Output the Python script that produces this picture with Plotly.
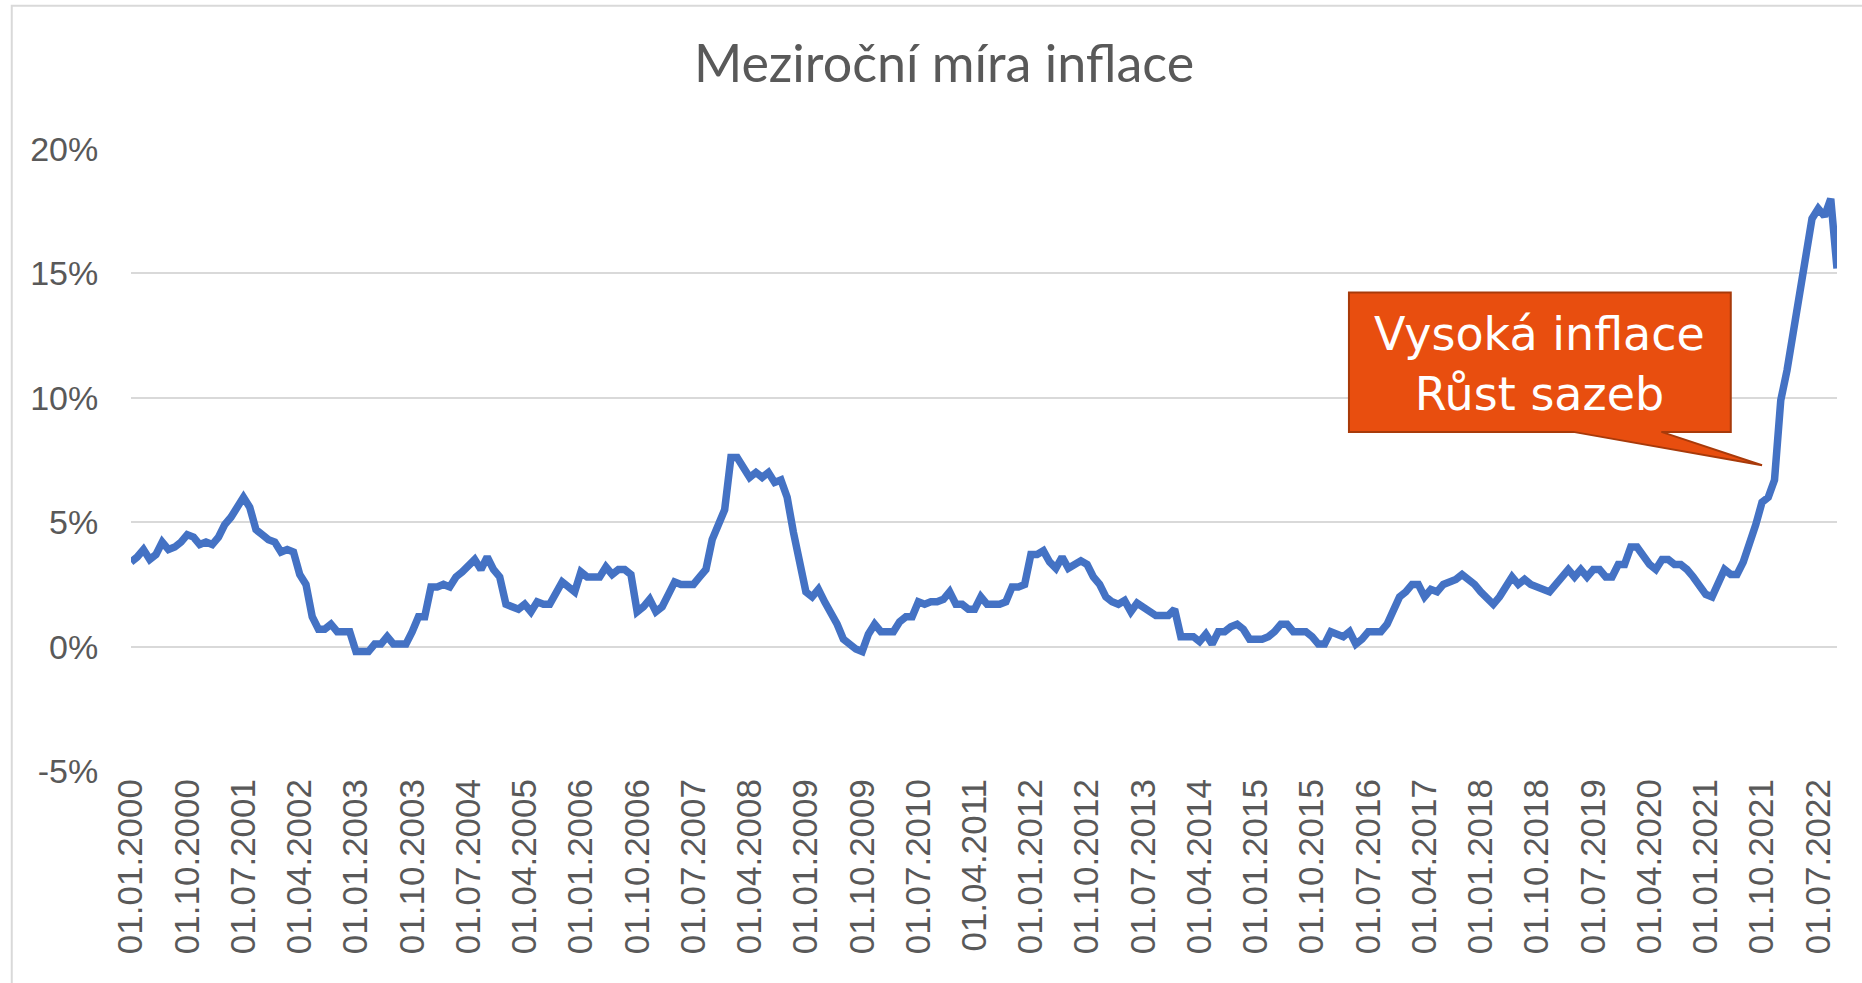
import plotly.graph_objects as go

# Year-on-year CPI inflation (%), monthly, Jan 2000 - Oct 2022
y2000 = [3.4, 3.6, 3.9, 3.5, 3.7, 4.2, 3.9, 4.0, 4.2, 4.5, 4.4, 4.1]
y2001 = [4.2, 4.1, 4.4, 4.9, 5.2, 5.6, 6.0, 5.6, 4.7, 4.5, 4.3, 4.2]
y2002 = [3.8, 3.9, 3.8, 2.9, 2.5, 1.2, 0.7, 0.7, 0.9, 0.6, 0.6, 0.6]
y2003 = [-0.2, -0.2, -0.2, 0.1, 0.1, 0.4, 0.1, 0.1, 0.1, 0.6, 1.2, 1.2]
y2004 = [2.4, 2.4, 2.5, 2.4, 2.8, 3.0, 3.3, 3.5, 3.1, 3.6, 3.1, 2.8]
y2005 = [1.7, 1.6, 1.5, 1.7, 1.4, 1.8, 1.7, 1.7, 2.2, 2.6, 2.4, 2.2]
y2006 = [3.0, 2.8, 2.8, 2.8, 3.2, 2.9, 3.1, 3.1, 2.9, 1.4, 1.6, 1.9]
y2007 = [1.4, 1.6, 2.1, 2.6, 2.5, 2.5, 2.5, 2.8, 3.1, 4.3, 5.0, 5.5]
y2008 = [7.6, 7.6, 7.2, 6.8, 7.0, 6.8, 7.0, 6.6, 6.7, 6.0, 4.6, 3.4]
y2009 = [2.2, 2.0, 2.3, 1.8, 1.4, 0.9, 0.3, 0.1, -0.1, -0.2, 0.5, 0.9]
y2010 = [0.6, 0.6, 0.6, 1.0, 1.2, 1.2, 1.8, 1.7, 1.8, 1.8, 1.9, 2.2]
y2011 = [1.7, 1.7, 1.5, 1.5, 2.0, 1.7, 1.7, 1.7, 1.8, 2.4, 2.4, 2.5]
y2012 = [3.7, 3.7, 3.85, 3.4, 3.15, 3.6, 3.15, 3.3, 3.45, 3.3, 2.8, 2.5]
y2013 = [2.0, 1.8, 1.7, 1.85, 1.4, 1.75, 1.6, 1.4, 1.25, 1.25, 1.25, 1.5]
y2014 = [0.4, 0.4, 0.4, 0.2, 0.5, 0.1, 0.6, 0.6, 0.8, 0.9, 0.7, 0.3]
y2015 = [0.3, 0.3, 0.4, 0.6, 0.9, 0.9, 0.6, 0.6, 0.6, 0.4, 0.1, 0.1]
y2016 = [0.6, 0.5, 0.4, 0.6, 0.1, 0.3, 0.6, 0.6, 0.6, 0.9, 1.5, 2.0]
y2017 = [2.2, 2.5, 2.5, 2.0, 2.3, 2.2, 2.5, 2.6, 2.7, 2.9, 2.7, 2.5]
y2018 = [2.2, 1.9, 1.7, 2.0, 2.4, 2.8, 2.5, 2.7, 2.5, 2.4, 2.3, 2.2]
y2019 = [2.5, 2.8, 3.1, 2.8, 3.1, 2.8, 3.1, 3.1, 2.8, 2.8, 3.3, 3.3]
y2020 = [4.0, 4.0, 3.6, 3.3, 3.1, 3.5, 3.5, 3.3, 3.3, 3.1, 2.8, 2.4]
y2021 = [2.1, 2.0, 2.5, 3.1, 2.9, 2.9, 3.4, 4.1, 4.9, 5.8, 6.0, 6.7]
y2022 = [9.9, 11.1, 12.7, 14.2, 16.0, 17.2, 17.6, 17.3, 18.0, 15.2]

yearly = [y2000, y2001, y2002, y2003, y2004, y2005, y2006, y2007, y2008, y2009,
          y2010, y2011, y2012, y2013, y2014, y2015, y2016, y2017, y2018, y2019,
          y2020, y2021, y2022]
first_year = 2000

values = [v for yr in yearly for v in yr]
dates = [f"01.{(i % 12) + 1:02d}.{first_year + i // 12}" for i in range(len(values))]
idx = list(range(len(values)))

# category labels shown every 9 months
label_step = 9
tick_idx = idx[::label_step]
tick_txt = dates[::label_step]

y_ticks = [-5, 0, 5, 10, 15, 20]
y_labels = [f"{t}%" for t in y_ticks]

title_text = "Meziroční míra inflace"
callout_lines = ["Vysoká inflace", "Růst sazeb"]

GREY_TXT = "#595959"
GRID = "#D9D9D9"
AX_FONT = "Liberation Sans"

fig = go.Figure()
fig.add_trace(go.Scatter(
    x=idx, y=values, mode="lines",
    line=dict(color="#4472C4", width=7.5),
    cliponaxis=False, hoverinfo="x+y",
))

# callout box (in data coordinates)
bx0, bx1 = 194.9, 256.0
by0, by1 = 8.63, 14.23
p_left, p_right = 230.8, 244.9
tip_x, tip_y = 261.0, 7.29
path = (f"M {bx0},{by1} L {bx1},{by1} L {bx1},{by0} L {p_right},{by0} "
        f"L {tip_x},{tip_y} L {p_left},{by0} L {bx0},{by0} Z")
fig.add_shape(type="path", path=path, xref="x", yref="y",
              fillcolor="#E84E0F", line=dict(color="#A83A0A", width=2), layer="above")

fig.add_annotation(x=(bx0 + bx1) / 2, y=11.34, xref="x", yref="y",
                   text="<br>".join(callout_lines), showarrow=False, align="center",
                   font=dict(family="DejaVu Sans", size=46, color="white"),
                   xanchor="center", yanchor="middle")

# chart-area border (light grey), like an Excel chart frame
fig.add_shape(type="rect", xref="paper", yref="paper",
              x0=-0.0699, x1=1.2, y0=-0.5, y1=1.2305,
              line=dict(color=GRID, width=2), layer="below")

fig.update_layout(
    width=1862, height=983,
    margin=dict(l=131, r=25, t=149, b=212, pad=0),
    paper_bgcolor="white", plot_bgcolor="white",
    showlegend=False,
    title=dict(text=title_text, x=0.507, xref="container", xanchor="center",
               y=0.935, yref="container", yanchor="middle",
               font=dict(family="Lato", size=52, color=GREY_TXT)),
    xaxis=dict(range=[0, len(values) - 1], tickmode="array", tickvals=tick_idx,
               ticktext=tick_txt, tickangle=-90, showgrid=False, zeroline=False,
               showline=False, ticks="",
               tickfont=dict(family=AX_FONT, size=35, color=GREY_TXT)),
    yaxis=dict(range=[-5, 20], tickmode="array", tickvals=y_ticks, ticktext=y_labels,
               showgrid=True, gridcolor=GRID, gridwidth=2, zeroline=False,
               showline=False, ticks="outside", ticklen=25, tickcolor="rgba(0,0,0,0)",
               tickfont=dict(family=AX_FONT, size=34, color=GREY_TXT)),
)

fig.write_html("out.html", config={"displayModeBar": False},
               post_script="document.body.style.margin='0';")
